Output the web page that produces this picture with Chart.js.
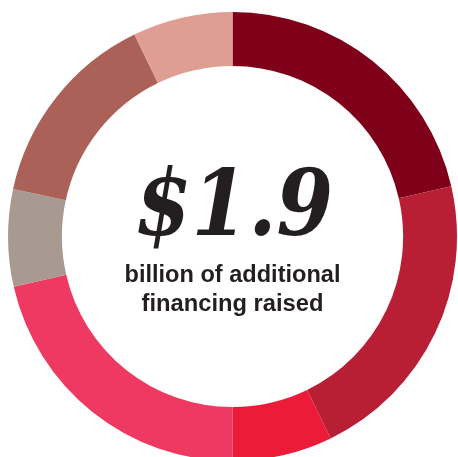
<!DOCTYPE html>
<html>
<head>
<meta charset="utf-8">
<script src="https://cdn.jsdelivr.net/npm/chart.js@4/dist/chart.umd.min.js"></script>
<style>
  html, body { margin: 0; padding: 0; background: #ffffff; overflow: hidden; }
  #wrap { position: absolute; left: 0; top: 0; width: 458px; height: 462px; }
</style>
</head>
<body>
<div id="wrap"><canvas id="c"></canvas></div>
<script>
// Share of the additional financing, by source (percent of total)
const categories = ['Source A', 'Source B', 'Source C', 'Source D', 'Source E', 'Source F', 'Source G'];
const shares = [21.4, 21.4, 7.2, 21.4, 7.0, 14.4, 7.2];
const colors = ['#7f0019', '#b81f35', '#ec1b37', '#ee3a62', '#a89a90', '#ab6058', '#df9e92'];

const headline = '$1.9';
const captionLines = ['billion of additional', 'financing raised'];

// Writes a line of text centred on cx, squeezed horizontally to a given width
function fitText(ctx, text, cx, y, width) {
  const w = ctx.measureText(text).width;
  const s = width / w;
  ctx.save();
  ctx.translate(cx, y);
  ctx.scale(s, 1);
  ctx.textAlign = 'center';
  ctx.fillText(text, 0, 0);
  ctx.restore();
}

const centerLabel = {
  id: 'centerLabel',
  afterDraw(chart) {
    const arc = chart.getDatasetMeta(0).data[0];
    const cx = arc.x, cy = arc.y;
    const ctx = chart.ctx;
    ctx.save();
    ctx.fillStyle = '#231f20';
    ctx.textBaseline = 'alphabetic';
    ctx.font = 'italic bold 92px "DejaVu Serif"';
    fitText(ctx, headline, cx + 1.5, cy - 1.5, 198);
    ctx.font = 'bold 23px "Liberation Sans", Arial, sans-serif';
    fitText(ctx, captionLines[0], cx, cy + 45, 216);
    fitText(ctx, captionLines[1], cx, cy + 74, 182);
    ctx.restore();
  }
};

new Chart(document.getElementById('c'), {
  type: 'doughnut',
  data: {
    labels: categories,
    datasets: [{
      data: shares,
      backgroundColor: colors,
      borderWidth: 0,
      hoverOffset: 0
    }]
  },
  options: {
    responsive: true,
    maintainAspectRatio: false,
    animation: false,
    cutout: '76%',
    layout: { padding: { left: 8, right: 1, top: 12, bottom: 1 } },
    plugins: {
      legend: { display: false },
      tooltip: { enabled: false }
    }
  },
  plugins: [centerLabel]
});
</script>
</body>
</html>
